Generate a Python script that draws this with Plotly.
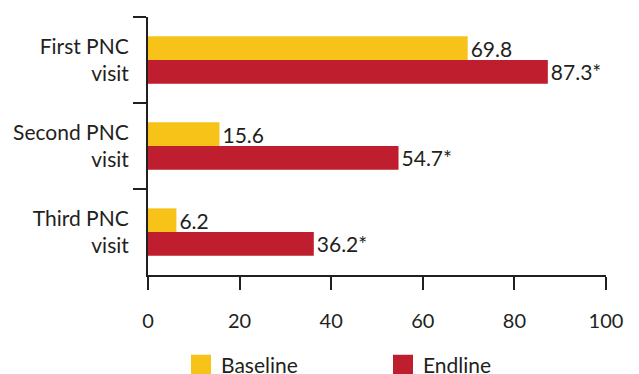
import plotly.graph_objects as go

categories = ["First PNC<br>visit", "Second PNC<br>visit", "Third PNC<br>visit"]
baseline = [69.8, 15.6, 6.2]
endline = [87.3, 54.7, 36.2]
series_names = ["Baseline", "Endline"]
x_ticks = [0, 20, 40, 60, 80, 100]
x_title = "% RDW"

YELLOW = "#F7C318"
RED = "#BE1E2D"
INK = "#231F20"
FONT = "Lato, 'Open Sans', sans-serif"

fig = go.Figure()
fig.add_trace(go.Bar(
    y=categories, x=baseline, orientation="h", name=series_names[0],
    marker=dict(color=YELLOW, line=dict(width=0)),
    texttemplate="%{x:.1f}", textposition="outside", constraintext="none",
    textfont=dict(size=21, color=INK, family=FONT),
    cliponaxis=False, showlegend=False,
))
fig.add_trace(go.Bar(
    y=categories, x=endline, orientation="h", name=series_names[1],
    marker=dict(color=RED, line=dict(width=0)),
    texttemplate="%{x:.1f}*", textposition="outside", constraintext="none",
    textfont=dict(size=21, color=INK, family=FONT),
    cliponaxis=False, showlegend=False,
))

# Legend entries: square swatches in the series colours
# (the first one also anchors the labelled x axis)
for i, (name, color) in enumerate(zip(series_names, [YELLOW, RED])):
    fig.add_trace(go.Scatter(
        x=[None], y=[None], mode="markers", name=name,
        xaxis="x2" if i == 0 else "x",
        marker=dict(symbol="square", size=16, color=color,
                    line=dict(width=4, color=color)),
        showlegend=True,
    ))

fig.update_layout(
    width=639, height=374,
    margin=dict(l=148, r=33, t=17, b=99),
    paper_bgcolor="white", plot_bgcolor="white",
    barmode="group", bargap=0.45, bargroupgap=0,
    font=dict(family=FONT, color=INK, size=21),
    showlegend=True,
    legend=dict(
        orientation="h", xref="paper", yref="container",
        x=(201 - 20 - 148) / 458, xanchor="left",
        y=1 - 365 / 374, yanchor="middle",
        entrywidth=157, entrywidthmode="pixels",
        font=dict(size=21, color=INK, family=FONT),
        bgcolor="rgba(0,0,0,0)", borderwidth=0,
        itemsizing="trace",
    ),
    # Axis line and tick marks
    xaxis=dict(
        range=[0, 100], tickvals=x_ticks, showgrid=False, zeroline=False,
        showline=True, linecolor=INK, linewidth=2,
        ticks="outside", ticklen=13, tickwidth=2, tickcolor=INK,
        showticklabels=False, automargin=False,
    ),
    # Tick labels, set a little further below the axis
    xaxis2=dict(
        overlaying="x", anchor="y", side="bottom", automargin=False,
        range=[0, 100], tickvals=x_ticks, showgrid=False, zeroline=False,
        showline=False, ticks="outside", ticklen=28, tickwidth=1,
        tickcolor="rgba(0,0,0,0)",
        tickfont=dict(size=20, color=INK),
    ),
)
fig.update_yaxes(
    autorange="reversed", showgrid=False, zeroline=False, automargin=False,
    showline=True, linecolor=INK, linewidth=2,
    ticks="outside", ticklen=13, tickwidth=2, tickcolor=INK,
    tickson="boundaries", ticklabelstandoff=13,
    tickfont=dict(size=21, color=INK),
)

# x-axis title centred under the tick labels
fig.add_annotation(
    text=f"<b>{x_title}</b>", xref="paper", yref="paper",
    x=0.5, y=-(336 - 17) / 258, xanchor="center", yanchor="middle",
    showarrow=False, font=dict(size=21, color=INK, family=FONT),
)

# Title line running off the top edge
fig.add_annotation(
    text="<b>delivered women</b>", xref="paper", yref="paper",
    x=(83 - 148) / 458, y=1.038, xanchor="left", yanchor="bottom",
    showarrow=False, font=dict(size=23, color=INK, family=FONT),
)

fig.write_html("out.html")
